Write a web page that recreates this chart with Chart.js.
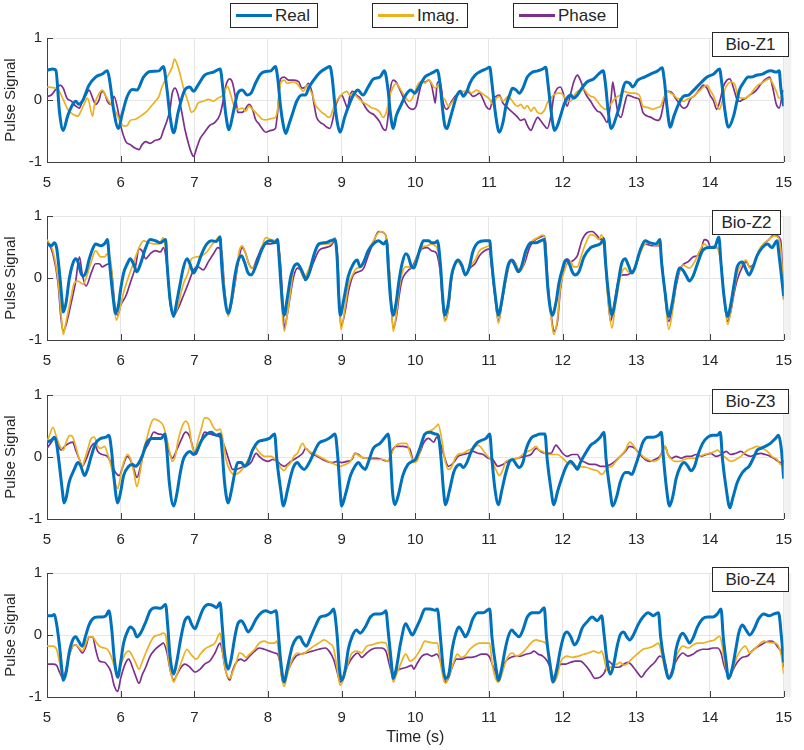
<!DOCTYPE html>
<html>
<head>
<meta charset="utf-8">
<title>Bio-Z pulse signals</title>
<script src="https://cdn.jsdelivr.net/npm/chart.js@4.4.1/dist/chart.umd.min.js"></script>
<style>
    html, body { margin: 0; padding: 0; background: #fff; }
    #wrap {
        position: relative; width: 804px; height: 750px; overflow: hidden;
        font-family: Arial, "Liberation Sans", Helvetica, sans-serif; color: #262626;
    }
    #wrap canvas { position: absolute; left: 0; }
    .legend-item {
        position: absolute; top: 3px; height: 25px; box-sizing: border-box;
        border: 1px solid #262626; background: #fff;
        display: flex; align-items: center; font-size: 17px; white-space: nowrap;
    }
    .legend-line { display: inline-block; width: 36px; margin: 0 3px 0 5px; }
    .panel-tag {
        position: absolute; left: 712px; height: 25px; box-sizing: border-box;
        border: 1px solid #262626; background: #fff;
        font-size: 17px; line-height: 23px; text-align: center;
    }
</style>
</head>
<body>
<div id="wrap"></div>
<script>
// --- Data (time in s, value) ---
const xTicks = [5, 6, 7, 8, 9, 10, 11, 12, 13, 14, 15];
const yTicks = [-1, 0, 1];
const seriesNames = ['Real', 'Imag.', 'Phase'];
const panelLabels = ['Bio-Z1', 'Bio-Z2', 'Bio-Z3', 'Bio-Z4'];

const z1Real = [[5.00,0.48],[5.08,0.50],[5.12,0.48],[5.17,-0.20],[5.22,-0.49],[5.28,-0.26],[5.35,-0.07],[5.39,-0.02],[5.43,-0.07],[5.48,-0.02],[5.57,0.24],[5.66,0.37],[5.75,0.42],[5.82,0.47],[5.85,0.32],[5.91,-0.20],[5.97,-0.46],[6.02,-0.23],[6.09,0.06],[6.16,0.17],[6.22,0.16],[6.31,0.37],[6.40,0.46],[6.52,0.47],[6.58,0.54],[6.63,0.16],[6.67,-0.26],[6.72,-0.53],[6.78,-0.20],[6.87,0.16],[6.94,0.21],[6.99,0.14],[7.05,0.24],[7.14,0.40],[7.26,0.45],[7.35,0.50],[7.39,0.16],[7.43,-0.26],[7.47,-0.48],[7.52,-0.25],[7.56,-0.02],[7.59,0.11],[7.65,0.16],[7.72,0.08],[7.77,0.11],[7.83,0.27],[7.90,0.42],[7.97,0.46],[8.04,0.47],[8.10,0.54],[8.13,0.37],[8.17,-0.10],[8.21,-0.42],[8.24,-0.54],[8.28,-0.41],[8.33,-0.23],[8.39,-0.02],[8.46,0.08],[8.51,0.08],[8.55,0.19],[8.62,0.32],[8.71,0.45],[8.80,0.52],[8.84,0.54],[8.87,0.37],[8.91,-0.10],[8.95,-0.42],[8.98,-0.52],[9.04,-0.28],[9.11,-0.05],[9.16,0.08],[9.22,0.16],[9.29,0.08],[9.36,0.21],[9.43,0.34],[9.52,0.37],[9.58,0.47],[9.63,0.16],[9.66,-0.20],[9.70,-0.46],[9.74,-0.26],[9.81,-0.07],[9.87,0.08],[9.94,0.16],[9.99,0.11],[10.05,0.21],[10.13,0.37],[10.20,0.42],[10.25,0.45],[10.30,0.48],[10.34,0.21],[10.37,-0.15],[10.40,-0.41],[10.43,-0.46],[10.47,-0.31],[10.52,-0.10],[10.56,0.06],[10.61,0.14],[10.65,0.06],[10.70,0.14],[10.74,0.27],[10.81,0.40],[10.90,0.47],[10.96,0.50],[11.01,0.53],[11.04,0.27],[11.08,-0.15],[11.12,-0.46],[11.14,-0.52],[11.19,-0.36],[11.23,-0.10],[11.28,0.08],[11.32,0.19],[11.37,0.16],[11.41,0.11],[11.46,0.19],[11.52,0.37],[11.59,0.45],[11.66,0.47],[11.73,0.50],[11.77,0.53],[11.80,0.27],[11.84,-0.15],[11.87,-0.41],[11.89,-0.49],[11.93,-0.41],[11.97,-0.26],[12.02,-0.07],[12.06,0.03],[12.11,0.08],[12.15,0.03],[12.20,0.08],[12.26,0.19],[12.33,0.29],[12.42,0.34],[12.49,0.42],[12.55,0.47],[12.58,0.27],[12.62,-0.20],[12.66,-0.46],[12.73,-0.26],[12.77,-0.10],[12.82,0.19],[12.86,0.29],[12.91,0.27],[12.95,0.21],[13.02,0.32],[13.11,0.37],[13.20,0.42],[13.29,0.47],[13.35,0.52],[13.38,0.32],[13.42,-0.15],[13.46,-0.44],[13.51,-0.26],[13.58,-0.05],[13.64,0.06],[13.71,0.08],[13.78,0.16],[13.87,0.27],[13.96,0.37],[14.05,0.42],[14.13,0.50],[14.16,0.27],[14.20,-0.15],[14.25,-0.44],[14.32,-0.26],[14.36,-0.05],[14.40,0.16],[14.45,0.27],[14.52,0.37],[14.56,0.37],[14.63,0.40],[14.72,0.42],[14.76,0.45],[14.83,0.47],[14.90,0.45],[14.94,0.47],[14.96,0.21],[15.00,-0.10]];
const z1Imag = [[5.00,0.21],[5.08,0.20],[5.15,0.17],[5.22,0.01],[5.28,-0.15],[5.35,-0.23],[5.42,-0.26],[5.46,-0.18],[5.51,-0.05],[5.55,0.03],[5.62,-0.26],[5.64,-0.10],[5.71,0.11],[5.75,0.16],[5.80,0.06],[5.84,-0.02],[5.89,-0.10],[5.96,-0.26],[6.00,-0.36],[6.04,-0.42],[6.09,-0.41],[6.13,-0.33],[6.20,-0.31],[6.27,-0.26],[6.34,-0.20],[6.40,-0.12],[6.47,-0.02],[6.52,0.06],[6.56,0.21],[6.63,0.37],[6.70,0.53],[6.73,0.66],[6.78,0.53],[6.85,0.21],[6.92,-0.05],[6.96,-0.20],[7.01,-0.15],[7.05,-0.05],[7.12,-0.02],[7.19,0.01],[7.26,-0.02],[7.32,0.03],[7.39,0.08],[7.45,0.22],[7.50,0.06],[7.54,-0.10],[7.59,-0.15],[7.65,-0.13],[7.70,-0.18],[7.74,-0.10],[7.79,-0.15],[7.83,-0.20],[7.88,-0.26],[7.92,-0.31],[7.97,-0.32],[8.04,-0.30],[8.10,-0.28],[8.13,-0.15],[8.17,0.27],[8.22,0.32],[8.26,0.27],[8.33,0.29],[8.39,0.27],[8.44,0.19],[8.48,0.14],[8.53,0.24],[8.57,0.16],[8.61,0.06],[8.64,-0.07],[8.69,-0.15],[8.73,-0.20],[8.78,-0.24],[8.82,-0.28],[8.85,-0.26],[8.89,-0.12],[8.93,-0.02],[8.98,0.06],[9.02,0.11],[9.07,0.14],[9.11,0.08],[9.16,0.11],[9.20,0.06],[9.27,-0.02],[9.34,-0.07],[9.40,-0.12],[9.47,-0.15],[9.52,-0.20],[9.56,-0.28],[9.61,-0.18],[9.65,0.06],[9.70,0.21],[9.74,0.27],[9.78,0.21],[9.83,0.11],[9.87,0.03],[9.92,-0.02],[9.96,0.03],[10.03,0.24],[10.09,0.30],[10.13,0.27],[10.18,0.33],[10.22,0.27],[10.27,0.19],[10.31,0.24],[10.36,0.06],[10.40,0.01],[10.45,-0.10],[10.49,-0.05],[10.54,0.03],[10.58,0.08],[10.63,0.14],[10.67,0.14],[10.72,0.16],[10.76,0.11],[10.83,0.16],[10.90,0.11],[10.96,0.06],[11.01,0.01],[11.05,-0.07],[11.10,0.03],[11.14,0.06],[11.19,-0.02],[11.26,0.06],[11.30,0.01],[11.35,-0.07],[11.39,-0.10],[11.43,-0.07],[11.48,-0.14],[11.52,-0.09],[11.57,-0.18],[11.61,-0.12],[11.66,-0.20],[11.70,-0.22],[11.75,-0.17],[11.79,-0.05],[11.84,0.03],[11.88,0.08],[11.93,0.11],[11.97,0.11],[12.02,0.06],[12.06,-0.02],[12.11,-0.02],[12.15,0.06],[12.20,0.14],[12.24,0.16],[12.29,0.17],[12.33,0.11],[12.38,0.06],[12.42,0.05],[12.47,-0.02],[12.52,-0.10],[12.58,-0.15],[12.62,-0.12],[12.70,0.01],[12.75,0.06],[12.79,0.08],[12.84,0.14],[12.91,0.11],[12.97,0.11],[13.04,0.08],[13.09,-0.10],[13.15,-0.12],[13.22,-0.15],[13.29,-0.12],[13.33,-0.10],[13.38,0.06],[13.42,0.14],[13.47,0.11],[13.51,0.08],[13.55,0.03],[13.60,0.01],[13.64,-0.02],[13.69,0.01],[13.73,0.03],[13.78,0.06],[13.82,0.11],[13.87,0.16],[13.91,0.21],[13.96,0.24],[14.00,0.16],[14.05,0.06],[14.09,-0.07],[14.13,-0.15],[14.16,-0.05],[14.20,0.16],[14.25,0.27],[14.29,0.29],[14.34,0.24],[14.38,0.06],[14.43,0.03],[14.47,0.03],[14.52,0.06],[14.56,0.11],[14.61,0.19],[14.65,0.24],[14.70,0.27],[14.76,0.32],[14.81,0.34],[14.85,0.27],[14.90,0.14],[14.94,0.03],[14.99,0.08]];
const z1Phase = [[5.00,0.06],[5.06,0.08],[5.13,0.19],[5.18,0.24],[5.22,0.19],[5.27,0.03],[5.33,-0.02],[5.39,-0.10],[5.44,-0.13],[5.48,-0.02],[5.53,0.08],[5.57,0.16],[5.62,0.03],[5.66,-0.07],[5.71,0.01],[5.74,0.14],[5.78,0.11],[5.82,-0.02],[5.87,-0.07],[5.91,0.06],[5.96,-0.15],[6.00,-0.41],[6.07,-0.67],[6.13,-0.72],[6.20,-0.78],[6.25,-0.80],[6.29,-0.72],[6.34,-0.67],[6.40,-0.70],[6.47,-0.65],[6.54,-0.62],[6.58,-0.49],[6.63,-0.33],[6.67,-0.15],[6.70,0.11],[6.74,0.19],[6.78,0.08],[6.83,-0.20],[6.87,-0.46],[6.92,-0.70],[6.96,-0.85],[6.99,-0.91],[7.03,-0.78],[7.08,-0.62],[7.14,-0.52],[7.21,-0.41],[7.28,-0.36],[7.35,-0.23],[7.39,-0.02],[7.43,0.24],[7.48,0.34],[7.52,0.27],[7.57,-0.05],[7.59,-0.20],[7.65,-0.20],[7.70,-0.13],[7.74,-0.07],[7.79,-0.15],[7.83,-0.31],[7.88,-0.39],[7.92,-0.46],[7.97,-0.52],[8.04,-0.49],[8.10,-0.46],[8.13,-0.20],[8.17,0.34],[8.22,0.37],[8.28,0.32],[8.35,0.32],[8.42,0.29],[8.46,0.19],[8.51,0.21],[8.55,0.27],[8.60,0.11],[8.63,-0.10],[8.66,-0.28],[8.71,-0.36],[8.75,-0.39],[8.80,-0.44],[8.84,-0.46],[8.88,-0.31],[8.91,-0.13],[8.96,0.03],[9.00,0.08],[9.04,-0.02],[9.08,-0.13],[9.11,0.06],[9.15,0.14],[9.20,0.08],[9.25,0.03],[9.29,-0.05],[9.34,-0.15],[9.38,-0.20],[9.43,-0.23],[9.47,-0.28],[9.52,-0.36],[9.56,-0.46],[9.60,-0.49],[9.63,-0.26],[9.66,0.16],[9.70,0.32],[9.74,0.29],[9.78,0.19],[9.83,0.06],[9.87,-0.05],[9.92,-0.13],[9.96,-0.15],[10.01,-0.10],[10.05,0.11],[10.10,0.29],[10.13,0.29],[10.18,0.32],[10.22,0.24],[10.25,0.06],[10.27,-0.05],[10.30,0.29],[10.34,0.27],[10.38,-0.05],[10.43,-0.15],[10.47,-0.07],[10.52,0.03],[10.56,0.08],[10.61,0.11],[10.65,0.08],[10.70,0.14],[10.74,0.11],[10.78,0.06],[10.83,0.08],[10.87,0.11],[10.92,0.01],[10.96,-0.10],[11.01,-0.15],[11.05,0.01],[11.10,0.06],[11.14,0.08],[11.19,-0.05],[11.23,-0.10],[11.30,-0.18],[11.35,-0.23],[11.39,-0.28],[11.43,-0.33],[11.48,-0.31],[11.52,-0.41],[11.57,-0.49],[11.61,-0.39],[11.66,-0.28],[11.70,-0.33],[11.75,-0.41],[11.79,-0.46],[11.84,-0.26],[11.88,0.06],[11.93,0.19],[11.97,0.21],[12.02,0.06],[12.06,-0.10],[12.11,0.11],[12.15,0.29],[12.20,0.40],[12.24,0.32],[12.29,0.16],[12.33,0.06],[12.38,-0.02],[12.42,-0.10],[12.47,-0.18],[12.51,-0.20],[12.56,-0.28],[12.60,-0.36],[12.62,-0.31],[12.66,0.06],[12.68,0.29],[12.70,0.16],[12.75,-0.20],[12.79,-0.28],[12.84,-0.07],[12.88,0.08],[12.93,0.06],[13.00,0.03],[13.04,0.01],[13.09,-0.20],[13.15,-0.26],[13.20,-0.28],[13.24,-0.31],[13.29,-0.33],[13.33,-0.28],[13.38,0.01],[13.40,0.14],[13.44,0.14],[13.49,0.11],[13.53,0.03],[13.58,-0.05],[13.64,-0.13],[13.69,-0.10],[13.73,0.01],[13.80,0.08],[13.87,0.19],[13.91,0.24],[13.96,0.19],[14.00,0.08],[14.05,-0.02],[14.09,-0.15],[14.14,0.01],[14.18,0.21],[14.23,0.32],[14.27,0.34],[14.32,0.19],[14.36,0.03],[14.40,-0.02],[14.45,0.01],[14.49,0.03],[14.54,0.08],[14.58,0.11],[14.63,0.16],[14.70,0.27],[14.76,0.34],[14.81,0.37],[14.85,0.21],[14.90,-0.07],[14.94,-0.13],[14.99,0.16]];

const z2Real = [[5.00,0.55],[5.06,0.52],[5.10,0.57],[5.13,0.49],[5.17,0.08],[5.21,-0.44],[5.22,-0.55],[5.26,-0.39],[5.30,-0.03],[5.35,0.23],[5.39,0.31],[5.42,0.26],[5.46,0.08],[5.49,0.03],[5.53,0.10],[5.57,0.29],[5.62,0.47],[5.66,0.55],[5.73,0.52],[5.78,0.55],[5.82,0.62],[5.85,0.23],[5.90,-0.34],[5.93,-0.57],[5.97,-0.44],[6.00,-0.18],[6.04,0.08],[6.09,0.23],[6.13,0.31],[6.18,0.21],[6.22,0.10],[6.27,0.23],[6.34,0.49],[6.40,0.62],[6.47,0.60],[6.54,0.57],[6.61,0.62],[6.63,0.23],[6.67,-0.34],[6.72,-0.62],[6.76,-0.39],[6.81,-0.08],[6.85,0.16],[6.90,0.31],[6.94,0.23],[6.99,0.08],[7.03,0.16],[7.10,0.39],[7.17,0.55],[7.23,0.60],[7.30,0.59],[7.35,0.66],[7.37,0.23],[7.41,-0.29],[7.46,-0.57],[7.50,-0.39],[7.55,0.03],[7.59,0.26],[7.64,0.36],[7.68,0.26],[7.73,0.08],[7.77,0.05],[7.84,0.21],[7.91,0.44],[7.97,0.57],[8.04,0.60],[8.09,0.57],[8.13,0.62],[8.15,0.34],[8.18,-0.18],[8.22,-0.60],[8.26,-0.34],[8.31,0.03],[8.35,0.18],[8.40,0.23],[8.44,0.16],[8.49,0.03],[8.51,-0.03],[8.56,0.08],[8.62,0.36],[8.69,0.55],[8.78,0.57],[8.85,0.60],[8.91,0.62],[8.94,0.29],[8.96,-0.29],[8.98,-0.60],[9.03,-0.34],[9.09,0.03],[9.16,0.23],[9.21,0.29],[9.25,0.18],[9.30,0.26],[9.36,0.44],[9.43,0.55],[9.50,0.60],[9.57,0.55],[9.61,0.60],[9.63,0.23],[9.66,-0.29],[9.70,-0.60],[9.74,-0.39],[9.78,-0.03],[9.82,0.23],[9.87,0.39],[9.90,0.36],[9.95,0.18],[9.98,0.16],[10.02,0.29],[10.07,0.49],[10.11,0.60],[10.18,0.60],[10.22,0.57],[10.27,0.57],[10.30,0.60],[10.34,0.23],[10.37,-0.29],[10.40,-0.60],[10.45,-0.39],[10.49,0.03],[10.54,0.23],[10.58,0.29],[10.63,0.21],[10.68,0.05],[10.73,0.16],[10.78,0.42],[10.85,0.57],[10.94,0.60],[11.01,0.60],[11.03,0.34],[11.08,-0.23],[11.13,-0.60],[11.17,-0.39],[11.22,-0.03],[11.26,0.21],[11.31,0.29],[11.35,0.21],[11.40,0.10],[11.44,0.18],[11.50,0.44],[11.57,0.57],[11.64,0.57],[11.70,0.60],[11.75,0.62],[11.77,0.34],[11.80,-0.18],[11.86,-0.60],[11.91,-0.39],[11.95,-0.08],[12.00,0.16],[12.04,0.29],[12.09,0.23],[12.13,0.10],[12.17,0.05],[12.22,0.10],[12.29,0.34],[12.38,0.49],[12.44,0.52],[12.51,0.55],[12.56,0.62],[12.58,0.29],[12.62,-0.23],[12.67,-0.60],[12.71,-0.39],[12.76,-0.03],[12.80,0.23],[12.85,0.31],[12.89,0.21],[12.94,0.08],[12.98,0.16],[13.05,0.44],[13.12,0.60],[13.18,0.57],[13.27,0.55],[13.32,0.62],[13.34,0.29],[13.39,-0.23],[13.44,-0.62],[13.49,-0.39],[13.54,-0.03],[13.59,0.16],[13.63,0.13],[13.68,0.03],[13.72,-0.05],[13.77,0.03],[13.83,0.23],[13.90,0.44],[13.99,0.49],[14.06,0.49],[14.12,0.66],[14.15,0.23],[14.19,-0.29],[14.24,-0.62],[14.28,-0.44],[14.33,-0.08],[14.37,0.18],[14.44,0.26],[14.48,0.16],[14.53,0.05],[14.57,0.13],[14.64,0.36],[14.71,0.49],[14.78,0.55],[14.84,0.49],[14.91,0.60],[14.94,0.34],[14.98,-0.08],[15.00,-0.29]];
const z2Imag = [[5.00,0.62],[5.08,0.44],[5.15,-0.03],[5.19,-0.55],[5.22,-0.91],[5.26,-0.70],[5.33,-0.29],[5.37,-0.08],[5.42,-0.05],[5.46,-0.08],[5.49,-0.10],[5.54,0.03],[5.60,0.26],[5.66,0.44],[5.73,0.34],[5.78,0.34],[5.82,0.39],[5.87,0.23],[5.91,-0.39],[5.94,-0.68],[6.00,-0.44],[6.04,-0.23],[6.11,0.03],[6.18,0.26],[6.25,0.49],[6.31,0.60],[6.38,0.57],[6.45,0.55],[6.52,0.55],[6.58,0.65],[6.63,0.23],[6.67,-0.39],[6.72,-0.60],[6.78,-0.44],[6.85,-0.10],[6.92,0.10],[6.96,0.31],[7.03,0.34],[7.10,0.36],[7.17,0.42],[7.23,0.52],[7.30,0.62],[7.35,0.68],[7.38,0.23],[7.42,-0.29],[7.46,-0.62],[7.50,-0.44],[7.57,0.08],[7.61,0.44],[7.65,0.52],[7.69,0.42],[7.74,0.23],[7.77,0.16],[7.84,0.23],[7.91,0.47],[7.97,0.65],[8.04,0.62],[8.11,0.60],[8.13,0.62],[8.16,0.29],[8.18,-0.29],[8.22,-0.86],[8.26,-0.60],[8.31,-0.18],[8.35,0.16],[8.40,0.23],[8.44,0.13],[8.49,0.00],[8.53,0.08],[8.60,0.29],[8.67,0.52],[8.76,0.55],[8.85,0.55],[8.91,0.65],[8.95,0.23],[8.97,-0.39],[8.99,-0.83],[9.05,-0.44],[9.09,-0.13],[9.16,0.08],[9.21,0.16],[9.27,0.18],[9.34,0.39],[9.41,0.55],[9.48,0.70],[9.52,0.75],[9.59,0.71],[9.62,0.55],[9.66,-0.08],[9.70,-0.86],[9.74,-0.60],[9.78,-0.18],[9.82,0.08],[9.87,0.18],[9.91,0.18],[9.96,0.16],[10.02,0.34],[10.09,0.49],[10.16,0.52],[10.22,0.55],[10.27,0.52],[10.30,0.47],[10.34,0.13],[10.37,-0.39],[10.40,-0.70],[10.45,-0.49],[10.49,-0.03],[10.54,0.23],[10.58,0.26],[10.63,0.18],[10.68,0.05],[10.74,0.18],[10.81,0.29],[10.87,0.44],[10.94,0.49],[11.01,0.52],[11.03,0.29],[11.08,-0.29],[11.13,-0.73],[11.17,-0.44],[11.23,-0.03],[11.28,0.23],[11.32,0.26],[11.37,0.21],[11.41,0.10],[11.46,0.18],[11.52,0.49],[11.59,0.60],[11.66,0.65],[11.73,0.69],[11.76,0.62],[11.79,-0.03],[11.84,-0.60],[11.88,-0.91],[11.93,-0.65],[11.97,-0.13],[12.02,0.10],[12.06,0.23],[12.11,0.26],[12.15,0.18],[12.20,0.18],[12.24,0.31],[12.31,0.55],[12.38,0.70],[12.44,0.68],[12.49,0.62],[12.53,0.70],[12.57,0.34],[12.61,-0.29],[12.67,-0.81],[12.71,-0.49],[12.76,-0.13],[12.80,0.08],[12.85,0.16],[12.89,0.10],[12.94,0.10],[12.98,0.16],[13.05,0.39],[13.12,0.55],[13.18,0.57],[13.27,0.52],[13.32,0.55],[13.35,0.23],[13.39,-0.29],[13.44,-0.83],[13.49,-0.55],[13.54,-0.08],[13.59,0.13],[13.63,0.21],[13.68,0.18],[13.72,0.16],[13.79,0.26],[13.86,0.44],[13.92,0.55],[13.99,0.49],[14.06,0.52],[14.10,0.49],[14.15,0.23],[14.19,-0.29],[14.24,-0.75],[14.28,-0.55],[14.33,-0.18],[14.37,0.08],[14.44,0.23],[14.49,0.29],[14.54,0.16],[14.60,0.23],[14.66,0.44],[14.73,0.55],[14.80,0.62],[14.87,0.68],[14.93,0.65],[14.97,0.34],[15.00,-0.36]];
const z2Phase = [[5.00,0.60],[5.08,0.39],[5.15,-0.08],[5.19,-0.65],[5.22,-0.86],[5.26,-0.75],[5.33,-0.39],[5.39,-0.05],[5.44,0.34],[5.48,0.05],[5.53,-0.13],[5.60,0.08],[5.66,0.23],[5.71,0.23],[5.75,0.18],[5.80,0.21],[5.84,0.23],[5.88,0.08],[5.92,-0.44],[5.96,-0.60],[6.00,-0.44],[6.07,-0.29],[6.13,-0.08],[6.20,0.18],[6.25,0.47],[6.29,0.44],[6.34,0.31],[6.40,0.39],[6.47,0.44],[6.54,0.42],[6.58,0.49],[6.63,0.18],[6.67,-0.39],[6.72,-0.60],[6.78,-0.49],[6.85,-0.29],[6.92,-0.08],[6.99,0.13],[7.05,0.18],[7.12,0.13],[7.19,0.26],[7.26,0.39],[7.32,0.49],[7.37,0.44],[7.41,-0.18],[7.46,-0.57],[7.50,-0.44],[7.56,-0.03],[7.60,0.29],[7.65,0.49],[7.69,0.42],[7.74,0.23],[7.79,0.16],[7.86,0.34],[7.95,0.55],[8.04,0.55],[8.13,0.57],[8.17,0.23],[8.20,-0.39],[8.22,-0.81],[8.26,-0.60],[8.31,-0.23],[8.35,0.03],[8.40,0.16],[8.44,0.13],[8.49,0.00],[8.56,0.08],[8.62,0.26],[8.69,0.44],[8.78,0.49],[8.85,0.52],[8.91,0.60],[8.95,0.23],[8.97,-0.39],[8.99,-0.78],[9.05,-0.52],[9.09,-0.23],[9.16,0.05],[9.23,0.10],[9.30,0.16],[9.36,0.36],[9.43,0.57],[9.50,0.75],[9.57,0.73],[9.60,0.68],[9.63,0.44],[9.66,-0.18],[9.70,-0.81],[9.74,-0.65],[9.78,-0.29],[9.82,-0.03],[9.87,0.08],[9.91,0.13],[9.96,0.18],[10.02,0.34],[10.09,0.47],[10.16,0.49],[10.22,0.44],[10.27,0.42],[10.30,0.36],[10.34,0.08],[10.37,-0.39],[10.40,-0.68],[10.45,-0.49],[10.49,-0.03],[10.54,0.23],[10.58,0.26],[10.63,0.18],[10.68,0.05],[10.74,0.16],[10.81,0.23],[10.87,0.36],[10.94,0.44],[11.01,0.47],[11.03,0.23],[11.08,-0.29],[11.13,-0.70],[11.17,-0.44],[11.23,-0.03],[11.28,0.23],[11.32,0.29],[11.37,0.21],[11.41,0.10],[11.48,0.23],[11.55,0.49],[11.61,0.60],[11.68,0.65],[11.75,0.68],[11.77,0.55],[11.80,-0.08],[11.85,-0.65],[11.88,-0.86],[11.93,-0.70],[11.97,-0.18],[12.02,0.18],[12.06,0.31],[12.11,0.26],[12.15,0.29],[12.20,0.36],[12.26,0.60],[12.33,0.73],[12.40,0.75],[12.47,0.68],[12.51,0.62],[12.56,0.65],[12.60,-0.03],[12.65,-0.70],[12.69,-0.49],[12.74,-0.13],[12.78,0.03],[12.83,0.05],[12.87,0.05],[12.92,0.08],[12.98,0.16],[13.05,0.42],[13.12,0.55],[13.21,0.52],[13.27,0.52],[13.32,0.52],[13.35,0.23],[13.40,-0.39],[13.44,-0.70],[13.49,-0.49],[13.54,-0.13],[13.60,0.16],[13.65,0.23],[13.70,0.26],[13.77,0.34],[13.83,0.36],[13.88,0.44],[13.92,0.62],[13.97,0.60],[14.01,0.49],[14.10,0.49],[14.15,0.23],[14.19,-0.29],[14.24,-0.70],[14.28,-0.55],[14.33,-0.23],[14.37,-0.03],[14.44,0.18],[14.49,0.26],[14.54,0.18],[14.60,0.23],[14.66,0.42],[14.73,0.55],[14.80,0.62],[14.87,0.70],[14.91,0.68],[14.96,0.60],[15.00,-0.34]];

const z3Real = [[5.00,0.24],[5.06,0.27],[5.10,0.32],[5.13,0.22],[5.17,-0.15],[5.21,-0.56],[5.23,-0.74],[5.26,-0.66],[5.30,-0.41],[5.37,-0.20],[5.42,-0.09],[5.46,-0.15],[5.51,-0.30],[5.55,-0.20],[5.60,0.01],[5.66,0.22],[5.73,0.30],[5.80,0.32],[5.84,0.35],[5.88,0.06],[5.91,-0.35],[5.96,-0.74],[6.00,-0.56],[6.04,-0.30],[6.11,-0.15],[6.16,-0.12],[6.20,-0.15],[6.25,-0.09],[6.29,0.01],[6.36,0.24],[6.43,0.30],[6.49,0.30],[6.55,0.30],[6.60,0.37],[6.63,0.06],[6.66,-0.41],[6.72,-0.79],[6.76,-0.61],[6.81,-0.25],[6.85,-0.04],[6.90,0.06],[6.94,0.09],[6.99,0.04],[7.03,0.09],[7.10,0.27],[7.17,0.37],[7.23,0.40],[7.30,0.35],[7.35,0.37],[7.38,0.06],[7.41,-0.41],[7.46,-0.74],[7.50,-0.56],[7.55,-0.25],[7.59,-0.09],[7.64,-0.09],[7.68,-0.15],[7.73,-0.09],[7.79,0.11],[7.86,0.24],[7.93,0.27],[8.02,0.30],[8.09,0.37],[8.12,-0.04],[8.17,-0.51],[8.21,-0.79],[8.26,-0.56],[8.31,-0.30],[8.35,-0.15],[8.40,-0.09],[8.44,-0.15],[8.49,-0.20],[8.56,-0.09],[8.62,0.06],[8.69,0.22],[8.78,0.27],[8.85,0.32],[8.91,0.37],[8.95,-0.04],[8.98,-0.56],[9.00,-0.79],[9.05,-0.61],[9.12,-0.30],[9.18,-0.15],[9.23,-0.09],[9.27,-0.15],[9.32,-0.20],[9.36,-0.09],[9.43,0.14],[9.52,0.22],[9.59,0.32],[9.63,0.37],[9.66,0.06],[9.69,-0.56],[9.72,-0.77],[9.77,-0.61],[9.83,-0.30],[9.90,-0.12],[9.96,-0.07],[10.00,-0.04],[10.07,0.17],[10.13,0.37],[10.20,0.40],[10.27,0.37],[10.31,0.35],[10.35,-0.04],[10.38,-0.51],[10.41,-0.77],[10.46,-0.56],[10.52,-0.25],[10.56,-0.15],[10.61,-0.12],[10.65,-0.17],[10.70,-0.09],[10.76,0.09],[10.83,0.22],[10.90,0.27],[10.96,0.30],[11.01,0.37],[11.04,-0.04],[11.08,-0.51],[11.13,-0.77],[11.17,-0.56],[11.23,-0.25],[11.28,-0.07],[11.32,-0.04],[11.37,-0.12],[11.41,-0.17],[11.46,-0.09],[11.50,0.11],[11.57,0.30],[11.64,0.35],[11.70,0.37],[11.76,0.37],[11.79,-0.04],[11.84,-0.51],[11.88,-0.77],[11.93,-0.56],[12.00,-0.30],[12.05,-0.15],[12.11,-0.07],[12.15,-0.12],[12.20,-0.20],[12.24,-0.09],[12.31,0.06],[12.38,0.19],[12.44,0.24],[12.51,0.32],[12.56,0.40],[12.59,-0.04],[12.64,-0.51],[12.68,-0.79],[12.74,-0.61],[12.78,-0.41],[12.85,-0.25],[12.89,-0.25],[12.94,-0.28],[12.98,-0.17],[13.03,0.01],[13.09,0.24],[13.16,0.32],[13.23,0.32],[13.30,0.35],[13.34,0.40],[13.37,-0.04],[13.41,-0.51],[13.45,-0.79],[13.50,-0.61],[13.54,-0.35],[13.60,-0.15],[13.65,-0.09],[13.70,-0.15],[13.74,-0.22],[13.79,-0.15],[13.83,0.01],[13.90,0.22],[13.97,0.32],[14.04,0.35],[14.10,0.35],[14.14,0.40],[14.17,-0.04],[14.22,-0.51],[14.27,-0.82],[14.31,-0.66],[14.37,-0.41],[14.44,-0.25],[14.48,-0.20],[14.53,-0.15],[14.60,0.01],[14.64,0.11],[14.69,0.14],[14.75,0.17],[14.82,0.22],[14.89,0.30],[14.93,0.35],[14.97,0.11],[15.00,-0.35]];
const z3Imag = [[5.00,0.24],[5.04,0.37],[5.08,0.48],[5.13,0.32],[5.17,0.19],[5.22,0.11],[5.26,0.24],[5.31,0.35],[5.35,0.32],[5.39,0.17],[5.44,-0.04],[5.48,-0.15],[5.51,-0.04],[5.55,0.11],[5.60,0.30],[5.64,0.32],[5.69,0.17],[5.73,0.14],[5.78,0.17],[5.82,0.06],[5.87,-0.15],[5.91,-0.35],[5.96,-0.51],[6.00,-0.30],[6.04,-0.09],[6.09,0.04],[6.13,-0.02],[6.18,-0.25],[6.22,-0.48],[6.27,-0.20],[6.31,0.11],[6.36,0.32],[6.40,0.50],[6.45,0.61],[6.52,0.58],[6.58,0.50],[6.63,0.27],[6.67,0.06],[6.70,-0.07],[6.74,0.01],[6.78,0.27],[6.83,0.48],[6.88,0.58],[6.93,0.48],[6.97,0.17],[7.01,0.09],[7.05,0.27],[7.10,0.48],[7.14,0.63],[7.20,0.61],[7.26,0.48],[7.30,0.43],[7.35,0.45],[7.39,0.27],[7.43,-0.04],[7.50,-0.25],[7.55,-0.28],[7.61,-0.25],[7.68,-0.15],[7.75,0.01],[7.82,0.17],[7.86,0.11],[7.91,0.04],[7.95,0.01],[8.04,0.01],[8.13,-0.09],[8.17,-0.17],[8.22,-0.22],[8.26,-0.15],[8.31,-0.09],[8.35,0.01],[8.40,0.06],[8.47,0.22],[8.51,0.14],[8.56,0.09],[8.65,0.04],[8.74,-0.02],[8.85,-0.09],[8.91,-0.12],[8.98,-0.15],[9.05,-0.12],[9.12,-0.07],[9.18,0.06],[9.25,0.01],[9.32,-0.02],[9.48,-0.04],[9.57,-0.04],[9.63,-0.07],[9.68,0.06],[9.74,0.19],[9.81,0.22],[9.88,0.22],[9.93,0.06],[9.98,-0.09],[10.02,-0.07],[10.07,0.11],[10.11,0.32],[10.16,0.40],[10.22,0.43],[10.29,0.50],[10.31,0.53],[10.36,0.27],[10.40,-0.04],[10.45,-0.20],[10.49,-0.17],[10.54,-0.02],[10.58,0.04],[10.65,0.06],[10.72,0.11],[10.78,0.14],[10.85,0.19],[10.92,0.11],[10.96,0.04],[11.01,-0.02],[11.05,-0.09],[11.10,-0.22],[11.14,-0.30],[11.19,-0.20],[11.23,-0.07],[11.32,-0.04],[11.39,-0.02],[11.46,0.04],[11.52,0.09],[11.57,0.11],[11.64,0.17],[11.68,0.11],[11.73,0.09],[11.79,0.04],[11.93,0.04],[12.00,-0.02],[12.06,-0.09],[12.13,-0.12],[12.20,-0.15],[12.33,-0.17],[12.40,-0.20],[12.47,-0.22],[12.53,-0.28],[12.58,-0.22],[12.62,-0.17],[12.67,-0.15],[12.71,-0.09],[12.78,0.01],[12.85,0.11],[12.91,0.24],[12.96,0.19],[13.00,0.11],[13.05,0.06],[13.12,-0.02],[13.16,-0.04],[13.23,-0.07],[13.30,-0.04],[13.34,0.04],[13.39,0.17],[13.43,0.04],[13.48,-0.04],[13.52,-0.07],[13.59,-0.07],[13.65,-0.04],[13.72,-0.02],[13.79,-0.02],[13.86,0.01],[13.92,0.04],[13.99,0.06],[14.06,0.09],[14.10,0.11],[14.15,0.06],[14.19,0.01],[14.24,-0.04],[14.28,-0.07],[14.35,-0.04],[14.42,0.01],[14.46,0.06],[14.51,0.11],[14.57,0.14],[14.64,0.17],[14.71,0.14],[14.78,0.09],[14.84,0.01],[14.91,-0.04],[14.96,-0.12],[15.00,-0.09]];
const z3Phase = [[5.00,0.14],[5.06,0.24],[5.10,0.30],[5.15,0.19],[5.19,0.11],[5.24,0.17],[5.30,0.22],[5.35,0.24],[5.39,0.11],[5.44,-0.04],[5.48,-0.15],[5.53,-0.04],[5.60,0.17],[5.64,0.22],[5.69,0.09],[5.75,0.04],[5.82,0.01],[5.89,-0.15],[5.93,-0.25],[5.98,-0.30],[6.03,-0.15],[6.09,0.01],[6.13,-0.04],[6.18,-0.20],[6.22,-0.33],[6.27,-0.15],[6.31,0.06],[6.38,0.22],[6.45,0.40],[6.52,0.37],[6.58,0.35],[6.63,0.17],[6.67,0.04],[6.70,-0.02],[6.76,0.11],[6.83,0.30],[6.88,0.40],[6.94,0.32],[6.99,0.11],[7.02,0.04],[7.08,0.22],[7.14,0.40],[7.21,0.37],[7.28,0.35],[7.35,0.32],[7.41,0.17],[7.48,-0.09],[7.52,-0.20],[7.57,-0.20],[7.64,-0.17],[7.70,-0.15],[7.77,-0.09],[7.84,0.06],[7.88,0.01],[7.93,-0.04],[8.00,-0.07],[8.06,-0.04],[8.13,-0.07],[8.17,-0.12],[8.22,-0.15],[8.29,-0.09],[8.35,-0.04],[8.42,0.01],[8.47,0.06],[8.51,0.14],[8.58,0.06],[8.67,0.01],[8.74,-0.04],[8.80,-0.07],[8.87,-0.09],[8.94,-0.07],[9.00,-0.09],[9.07,-0.07],[9.14,-0.04],[9.18,0.06],[9.23,0.04],[9.30,-0.02],[9.48,-0.02],[9.63,-0.07],[9.68,0.09],[9.74,0.17],[9.83,0.17],[9.92,0.14],[9.98,-0.07],[10.02,-0.02],[10.07,0.09],[10.11,0.22],[10.18,0.30],[10.25,0.24],[10.29,0.32],[10.34,0.22],[10.38,0.06],[10.45,-0.15],[10.52,-0.09],[10.58,0.01],[10.65,0.04],[10.72,0.06],[10.78,0.09],[10.85,0.06],[10.92,0.04],[10.99,-0.02],[11.05,-0.04],[11.12,-0.15],[11.19,-0.12],[11.26,-0.07],[11.32,-0.04],[11.39,-0.02],[11.48,0.01],[11.57,0.04],[11.64,0.14],[11.70,0.09],[11.77,0.06],[11.84,0.06],[11.91,0.19],[11.95,0.14],[12.00,0.06],[12.06,0.01],[12.13,0.04],[12.20,0.04],[12.24,-0.04],[12.31,-0.09],[12.38,-0.12],[12.44,-0.12],[12.51,-0.15],[12.58,-0.15],[12.65,-0.12],[12.71,-0.07],[12.78,0.01],[12.85,0.09],[12.91,0.17],[12.98,0.14],[13.05,0.04],[13.12,-0.04],[13.18,-0.07],[13.25,-0.04],[13.32,0.01],[13.39,0.17],[13.43,0.04],[13.48,-0.02],[13.54,0.01],[13.61,-0.02],[13.68,0.01],[13.74,0.01],[13.81,0.04],[13.88,0.01],[13.95,0.04],[14.01,0.06],[14.08,0.01],[14.15,0.04],[14.22,0.09],[14.28,0.04],[14.35,0.06],[14.42,0.09],[14.48,0.04],[14.55,0.01],[14.62,0.04],[14.69,0.06],[14.75,0.04],[14.82,0.01],[14.89,-0.04],[14.96,-0.09],[15.00,-0.07]];

const z4Real = [[5.00,0.31],[5.06,0.31],[5.10,0.33],[5.13,0.18],[5.17,-0.18],[5.21,-0.65],[5.22,-0.73],[5.26,-0.60],[5.30,-0.29],[5.35,-0.08],[5.39,-0.03],[5.43,-0.10],[5.48,-0.18],[5.52,-0.03],[5.57,0.16],[5.62,0.26],[5.69,0.29],[5.75,0.29],[5.80,0.31],[5.84,0.39],[5.88,0.08],[5.91,-0.34],[5.96,-0.68],[6.00,-0.44],[6.04,-0.13],[6.09,0.05],[6.13,0.13],[6.18,0.08],[6.22,-0.03],[6.27,0.03],[6.34,0.21],[6.40,0.39],[6.47,0.44],[6.54,0.43],[6.61,0.49],[6.64,0.13],[6.67,-0.34],[6.72,-0.63],[6.76,-0.44],[6.82,-0.03],[6.87,0.23],[6.92,0.29],[6.96,0.18],[7.01,0.10],[7.05,0.21],[7.12,0.42],[7.19,0.49],[7.26,0.47],[7.30,0.44],[7.35,0.52],[7.38,0.13],[7.41,-0.29],[7.46,-0.55],[7.50,-0.39],[7.55,-0.03],[7.59,0.18],[7.64,0.23],[7.68,0.16],[7.73,0.05],[7.77,0.10],[7.84,0.26],[7.91,0.36],[7.97,0.39],[8.04,0.36],[8.11,0.39],[8.14,0.03],[8.17,-0.39],[8.22,-0.76],[8.26,-0.55],[8.33,-0.18],[8.39,-0.05],[8.43,-0.03],[8.48,-0.13],[8.52,-0.18],[8.58,-0.03],[8.65,0.16],[8.71,0.29],[8.78,0.31],[8.85,0.36],[8.89,0.42],[8.94,-0.03],[8.97,-0.55],[9.00,-0.73],[9.05,-0.55],[9.09,-0.23],[9.14,-0.03],[9.20,0.08],[9.25,0.03],[9.32,0.13],[9.39,0.29],[9.45,0.34],[9.52,0.34],[9.57,0.36],[9.60,0.39],[9.63,0.08],[9.67,-0.39],[9.70,-0.70],[9.74,-0.55],[9.80,-0.13],[9.87,0.18],[9.91,0.10],[9.96,0.00],[10.00,0.08],[10.07,0.26],[10.13,0.42],[10.20,0.42],[10.27,0.40],[10.30,0.42],[10.34,-0.03],[10.38,-0.55],[10.41,-0.70],[10.46,-0.60],[10.50,-0.23],[10.55,0.03],[10.59,0.13],[10.64,0.05],[10.68,-0.03],[10.73,0.08],[10.78,0.26],[10.85,0.36],[10.92,0.36],[11.01,0.42],[11.04,-0.03],[11.09,-0.49],[11.13,-0.73],[11.17,-0.55],[11.22,-0.23],[11.26,-0.03],[11.31,0.08],[11.35,0.03],[11.41,-0.03],[11.46,0.08],[11.52,0.29],[11.59,0.36],[11.68,0.36],[11.75,0.44],[11.78,-0.03],[11.83,-0.49],[11.87,-0.76],[11.92,-0.55],[11.97,-0.23],[12.02,0.00],[12.06,0.05],[12.11,-0.03],[12.16,-0.16],[12.21,-0.08],[12.26,0.10],[12.33,0.21],[12.40,0.29],[12.47,0.23],[12.53,0.31],[12.56,0.03],[12.60,-0.39],[12.65,-0.63],[12.69,-0.49],[12.74,-0.18],[12.78,0.00],[12.83,0.05],[12.87,-0.03],[12.91,-0.08],[12.96,0.00],[13.03,0.18],[13.09,0.29],[13.16,0.36],[13.23,0.31],[13.30,0.36],[13.33,-0.03],[13.39,-0.49],[13.44,-0.70],[13.50,-0.55],[13.54,-0.23],[13.59,-0.03],[13.63,0.03],[13.68,-0.05],[13.72,-0.13],[13.77,-0.05],[13.83,0.13],[13.90,0.26],[13.97,0.29],[14.04,0.29],[14.10,0.34],[14.15,0.42],[14.18,-0.03],[14.22,-0.44],[14.25,-0.70],[14.30,-0.55],[14.35,-0.23],[14.39,0.03],[14.44,0.16],[14.49,0.08],[14.54,0.00],[14.60,0.10],[14.66,0.26],[14.73,0.34],[14.80,0.31],[14.87,0.34],[14.93,0.36],[14.97,-0.03],[15.00,-0.44]];
const z4Imag = [[5.00,-0.18],[5.08,-0.18],[5.13,-0.23],[5.17,-0.44],[5.22,-0.73],[5.26,-0.60],[5.30,-0.34],[5.35,-0.18],[5.39,-0.16],[5.44,-0.21],[5.48,-0.26],[5.53,-0.13],[5.57,-0.03],[5.62,-0.03],[5.66,-0.10],[5.71,-0.18],[5.78,-0.21],[5.82,-0.23],[5.87,-0.34],[5.91,-0.49],[5.96,-0.65],[6.00,-0.49],[6.07,-0.29],[6.11,-0.26],[6.16,-0.34],[6.20,-0.44],[6.25,-0.55],[6.29,-0.44],[6.34,-0.29],[6.40,-0.13],[6.45,-0.03],[6.52,0.00],[6.58,0.03],[6.61,0.00],[6.65,-0.39],[6.70,-0.70],[6.72,-0.76],[6.76,-0.65],[6.83,-0.42],[6.90,-0.23],[6.94,-0.29],[6.99,-0.36],[7.03,-0.39],[7.08,-0.31],[7.14,-0.23],[7.21,-0.18],[7.28,-0.13],[7.35,0.03],[7.38,-0.23],[7.42,-0.55],[7.48,-0.70],[7.52,-0.60],[7.57,-0.44],[7.61,-0.29],[7.66,-0.31],[7.70,-0.36],[7.75,-0.31],[7.82,-0.23],[7.88,-0.13],[7.95,-0.10],[8.02,-0.13],[8.09,-0.13],[8.12,-0.10],[8.15,-0.34],[8.18,-0.65],[8.22,-0.83],[8.26,-0.65],[8.33,-0.39],[8.40,-0.29],[8.47,-0.31],[8.53,-0.26],[8.62,-0.18],[8.69,-0.13],[8.76,-0.08],[8.83,-0.13],[8.89,-0.21],[8.94,-0.55],[8.98,-0.81],[9.03,-0.70],[9.09,-0.44],[9.14,-0.29],[9.21,-0.26],[9.27,-0.29],[9.34,-0.18],[9.41,-0.16],[9.48,-0.13],[9.54,-0.12],[9.60,-0.13],[9.66,-0.44],[9.70,-0.76],[9.74,-0.65],[9.81,-0.44],[9.87,-0.31],[9.93,-0.42],[10.00,-0.36],[10.07,-0.23],[10.13,-0.10],[10.20,-0.12],[10.27,-0.13],[10.30,-0.13],[10.34,-0.44],[10.38,-0.70],[10.41,-0.78],[10.46,-0.65],[10.52,-0.44],[10.57,-0.31],[10.62,-0.36],[10.67,-0.34],[10.74,-0.23],[10.81,-0.16],[10.87,-0.13],[10.94,-0.13],[11.01,-0.13],[11.04,-0.44],[11.09,-0.70],[11.13,-0.76],[11.17,-0.65],[11.23,-0.42],[11.28,-0.31],[11.32,-0.29],[11.37,-0.34],[11.43,-0.31],[11.50,-0.23],[11.57,-0.13],[11.64,-0.08],[11.70,-0.10],[11.77,-0.13],[11.82,-0.34],[11.86,-0.65],[11.88,-0.76],[11.93,-0.65],[11.97,-0.44],[12.02,-0.36],[12.06,-0.34],[12.13,-0.36],[12.22,-0.34],[12.29,-0.31],[12.35,-0.29],[12.42,-0.26],[12.49,-0.29],[12.53,-0.26],[12.57,-0.42],[12.60,-0.57],[12.65,-0.52],[12.69,-0.49],[12.74,-0.47],[12.78,-0.44],[12.83,-0.49],[12.87,-0.47],[12.91,-0.42],[12.96,-0.36],[13.03,-0.29],[13.09,-0.23],[13.16,-0.21],[13.23,-0.18],[13.30,-0.13],[13.33,-0.23],[13.39,-0.55],[13.44,-0.68],[13.50,-0.55],[13.54,-0.36],[13.59,-0.23],[13.63,-0.18],[13.70,-0.21],[13.77,-0.16],[13.83,-0.13],[13.90,-0.13],[13.99,-0.10],[14.06,-0.08],[14.13,-0.02],[14.16,-0.13],[14.19,-0.39],[14.24,-0.65],[14.26,-0.70],[14.31,-0.55],[14.37,-0.34],[14.44,-0.21],[14.48,-0.18],[14.54,-0.29],[14.60,-0.23],[14.66,-0.16],[14.73,-0.10],[14.80,-0.12],[14.89,-0.13],[14.93,-0.18],[14.97,-0.34],[15.00,-0.63]];
const z4Phase = [[5.00,-0.47],[5.08,-0.47],[5.13,-0.49],[5.17,-0.60],[5.22,-0.70],[5.26,-0.55],[5.30,-0.34],[5.35,-0.18],[5.39,-0.16],[5.44,-0.23],[5.48,-0.29],[5.53,-0.18],[5.57,-0.03],[5.62,-0.03],[5.66,-0.23],[5.71,-0.42],[5.78,-0.44],[5.82,-0.49],[5.87,-0.60],[5.91,-0.81],[5.96,-0.91],[6.00,-0.70],[6.06,-0.47],[6.11,-0.39],[6.16,-0.52],[6.20,-0.65],[6.25,-0.78],[6.29,-0.65],[6.34,-0.52],[6.40,-0.34],[6.47,-0.23],[6.54,-0.16],[6.58,-0.13],[6.63,-0.29],[6.67,-0.55],[6.72,-0.73],[6.76,-0.65],[6.82,-0.52],[6.87,-0.47],[6.94,-0.52],[7.01,-0.60],[7.08,-0.55],[7.14,-0.47],[7.21,-0.42],[7.28,-0.29],[7.35,-0.13],[7.38,-0.26],[7.42,-0.55],[7.48,-0.73],[7.52,-0.57],[7.57,-0.44],[7.63,-0.39],[7.68,-0.42],[7.75,-0.34],[7.82,-0.26],[7.88,-0.21],[7.95,-0.23],[8.02,-0.26],[8.09,-0.29],[8.13,-0.31],[8.17,-0.49],[8.20,-0.76],[8.25,-0.65],[8.31,-0.47],[8.38,-0.34],[8.44,-0.31],[8.51,-0.29],[8.60,-0.26],[8.69,-0.23],[8.78,-0.21],[8.83,-0.26],[8.89,-0.39],[8.94,-0.60],[8.98,-0.76],[9.03,-0.65],[9.09,-0.47],[9.16,-0.34],[9.22,-0.29],[9.27,-0.36],[9.34,-0.29],[9.41,-0.23],[9.48,-0.21],[9.54,-0.21],[9.60,-0.26],[9.65,-0.49],[9.69,-0.65],[9.74,-0.57],[9.79,-0.55],[9.88,-0.52],[9.95,-0.49],[9.98,-0.55],[10.02,-0.47],[10.09,-0.34],[10.16,-0.31],[10.22,-0.34],[10.29,-0.31],[10.34,-0.42],[10.38,-0.60],[10.41,-0.76],[10.45,-0.70],[10.50,-0.52],[10.56,-0.39],[10.63,-0.39],[10.70,-0.36],[10.76,-0.36],[10.83,-0.34],[10.90,-0.31],[10.96,-0.31],[11.01,-0.36],[11.05,-0.49],[11.10,-0.63],[11.13,-0.70],[11.17,-0.57],[11.23,-0.42],[11.30,-0.36],[11.37,-0.34],[11.43,-0.34],[11.50,-0.31],[11.57,-0.29],[11.61,-0.26],[11.67,-0.31],[11.73,-0.34],[11.79,-0.42],[11.84,-0.55],[11.88,-0.70],[11.93,-0.55],[11.98,-0.47],[12.04,-0.47],[12.11,-0.44],[12.17,-0.42],[12.24,-0.42],[12.31,-0.49],[12.38,-0.60],[12.44,-0.70],[12.51,-0.68],[12.57,-0.60],[12.62,-0.42],[12.67,-0.47],[12.71,-0.52],[12.76,-0.52],[12.83,-0.47],[12.89,-0.44],[12.96,-0.52],[13.03,-0.63],[13.07,-0.68],[13.12,-0.60],[13.18,-0.52],[13.25,-0.44],[13.32,-0.34],[13.39,-0.44],[13.44,-0.68],[13.50,-0.52],[13.57,-0.36],[13.63,-0.29],[13.70,-0.34],[13.77,-0.31],[13.83,-0.26],[13.90,-0.23],[13.97,-0.23],[14.04,-0.21],[14.10,-0.21],[14.15,-0.29],[14.19,-0.49],[14.24,-0.65],[14.26,-0.70],[14.31,-0.57],[14.37,-0.44],[14.44,-0.36],[14.51,-0.34],[14.57,-0.26],[14.62,-0.21],[14.69,-0.16],[14.75,-0.12],[14.82,-0.10],[14.87,-0.12],[14.93,-0.21],[14.97,-0.29],[15.00,-0.52]];

const panelSeries = [
    [z1Real, z1Imag, z1Phase],
    [z2Real, z2Imag, z2Phase],
    [z3Real, z3Imag, z3Phase],
    [z4Real, z4Imag, z4Phase]
];

// --- Look & layout ---
const seriesColors = ['#0072BD', '#EDB120', '#7E2F8E'];
const seriesWidths = [3, 1.7, 1.7];
const legendBoxes = [{ left: 230, width: 88 }, { left: 372, width: 96 }, { left: 513, width: 105 }];
const legendLineWidths = [3.5, 2.5, 2.5];
const plotTops = [34, 212, 391, 569];
const plotHeight = 128;
const padTop = 10;
const tagWidths = [77, 69, 77, 77];
const axisColor = '#404040';
const gridColor = '#e6e6e6';
const fontFamily = 'Arial, "Liberation Sans", Helvetica, sans-serif';

Chart.defaults.font.family = fontFamily;
Chart.defaults.color = '#262626';

// MATLAB-style inward tick marks and the faint band at the right edge
const axisMarks = {
    id: 'axisMarks',
    beforeDatasetsDraw(chart) {
        const { ctx, chartArea: a, scales: { x, y } } = chart;
        ctx.save();
        ctx.fillStyle = '#f1f1f1';
        ctx.fillRect(a.right + 0.5, a.top, 7, a.bottom - a.top);
        ctx.strokeStyle = axisColor;
        ctx.lineWidth = 1;
        ctx.beginPath();
        xTicks.forEach(v => {
            const px = Math.round(x.getPixelForValue(v)) + 0.5;
            ctx.moveTo(px, a.bottom);
            ctx.lineTo(px, a.bottom - 6);
        });
        yTicks.forEach(v => {
            const py = Math.round(y.getPixelForValue(v)) + 0.5;
            ctx.moveTo(a.left, py);
            ctx.lineTo(a.left + 6, py);
        });
        ctx.stroke();
        ctx.restore();
    }
};

const wrap = document.getElementById('wrap');

panelLabels.forEach((label, i) => {
    const last = i === panelLabels.length - 1;
    const axisH = last ? 52 : 30;
    const canvas = document.createElement('canvas');
    canvas.width = 804;
    canvas.height = padTop + plotHeight + axisH;
    canvas.style.top = (plotTops[i] - padTop) + 'px';
    wrap.appendChild(canvas);

    new Chart(canvas, {
        type: 'line',
        data: {
            datasets: panelSeries[i].map((pairs, k) => ({
                label: seriesNames[k],
                data: pairs.map(([t, v]) => ({ x: t, y: v })),
                borderColor: seriesColors[k],
                borderWidth: seriesWidths[k],
                pointRadius: 0,
                fill: false,
                cubicInterpolationMode: 'monotone'
            }))
        },
        options: {
            responsive: false,
            animation: false,
            events: [],
            layout: { padding: { top: padTop, right: 12, left: 0, bottom: 0 } },
            plugins: { legend: { display: false }, tooltip: { enabled: false } },
            scales: {
                x: {
                    type: 'linear', min: 5, max: 15,
                    afterBuildTicks: s => { s.ticks = xTicks.map(v => ({ value: v })); },
                    afterFit: s => { s.height = axisH; },
                    grid: { color: gridColor, drawTicks: false },
                    border: { color: axisColor },
                    ticks: { font: { size: 15 }, padding: 12, maxRotation: 0 },
                    title: {
                        display: last, text: 'Time (s)',
                        font: { size: 16 }, padding: { top: 0, bottom: 2 }
                    }
                },
                y: {
                    min: -1, max: 1,
                    afterBuildTicks: s => { s.ticks = yTicks.map(v => ({ value: v })); },
                    afterFit: s => { s.width = 47; },
                    grid: { color: gridColor, drawTicks: false },
                    border: { color: axisColor },
                    ticks: { font: { size: 15 }, padding: 5 },
                    title: {
                        display: true, text: 'Pulse Signal',
                        font: { size: 15 }, padding: { top: 2, bottom: 0 }
                    }
                }
            }
        },
        plugins: [axisMarks]
    });

    const tag = document.createElement('div');
    tag.className = 'panel-tag';
    tag.style.top = (plotTops[i] - 2) + 'px';
    tag.style.width = tagWidths[i] + 'px';
    tag.textContent = label;
    wrap.appendChild(tag);
});

// --- Custom legend ---
seriesNames.forEach((name, k) => {
    const item = document.createElement('div');
    item.className = 'legend-item';
    item.style.left = legendBoxes[k].left + 'px';
    item.style.width = legendBoxes[k].width + 'px';
    item.innerHTML = `<span class="legend-line" style="height:${legendLineWidths[k]}px;background:${seriesColors[k]}"></span><span>${name}</span>`;
    wrap.appendChild(item);
});
</script>
</body>
</html>
